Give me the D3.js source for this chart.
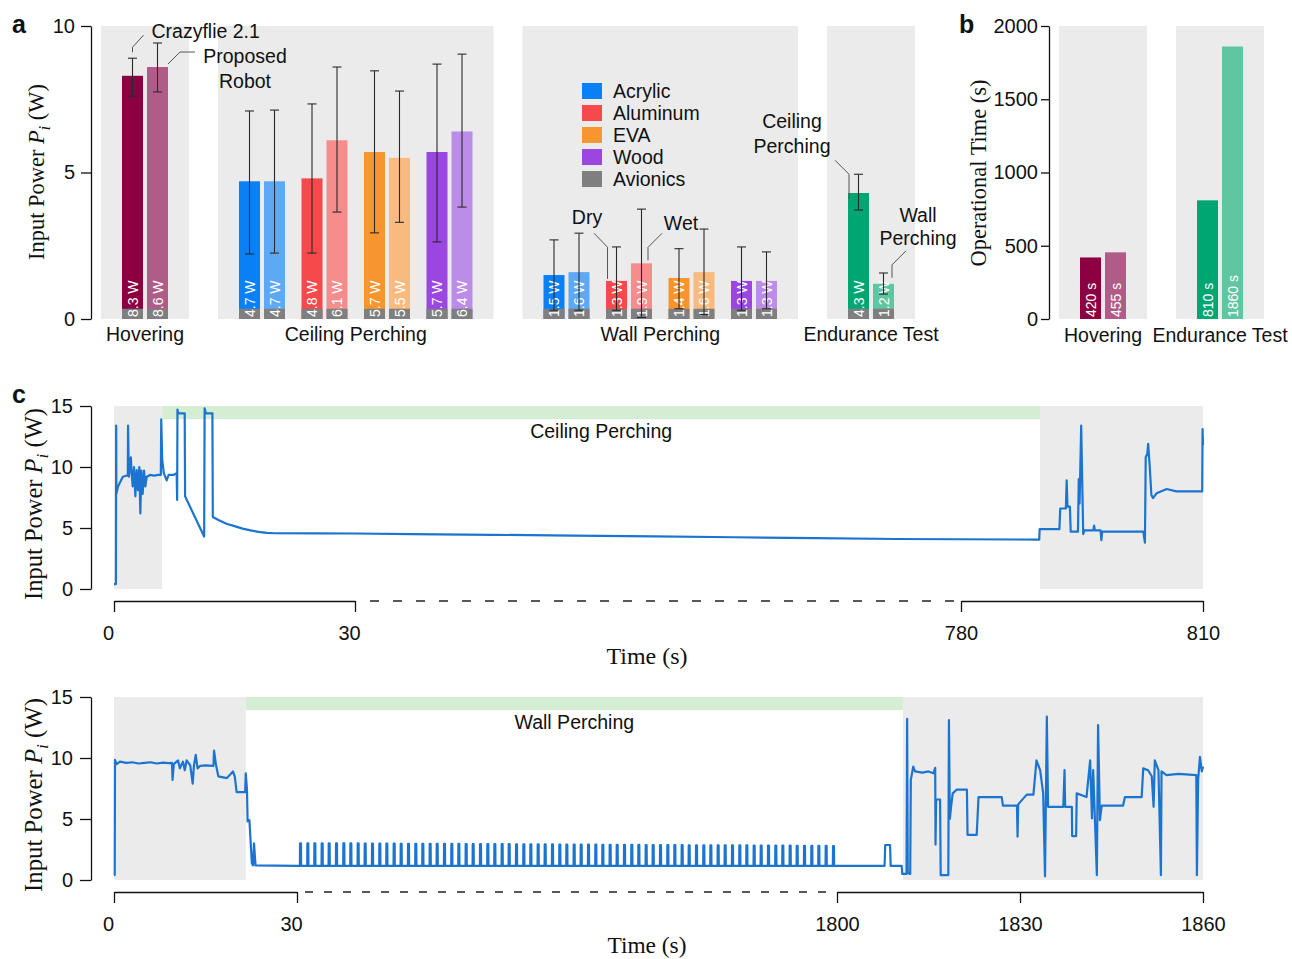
<!DOCTYPE html>
<html><head><meta charset="utf-8">
<script src="https://cdn.jsdelivr.net/npm/d3@7"></script>
<style>
body{margin:0;background:#fff;}
svg text{font-family:"Liberation Sans",Arial,Helvetica,sans-serif;}
svg text.serif{font-family:"Liberation Serif","Times New Roman",serif;}
</style></head><body>
<svg id="chart" width="1292" height="959"></svg>
<script>
// ================= DATA =================
const groupNames = ["Hovering","Ceiling Perching","Wall Perching","Endurance Test"];
const hoverRobots = ["Crazyflie 2.1","Proposed Robot"];
const hoverPower = [8.3, 8.6];
const hoverErrLow = [7.6, 7.75];
const hoverErrHigh = [8.9, 9.42];
const materials = ["Acrylic","Aluminum","EVA","Wood"];
const ceilingDry = [4.7, 4.8, 5.7, 5.7];
const ceilingWet = [4.7, 6.1, 5.5, 6.4];
const ceilingDryLow = [2.22, 2.25, 2.94, 2.63];
const ceilingDryHigh = [7.1, 7.34, 8.47, 8.7];
const ceilingWetLow = [2.25, 3.65, 3.3, 3.82];
const ceilingWetHigh = [7.13, 8.6, 7.78, 9.04];
const wallDry = [1.5, 1.3, 1.4, 1.3];
const wallWet = [1.6, 1.9, 1.6, 1.3];
const wallDryLow = [0.3, 0.3, 0.35, 0.3];
const wallDryHigh = [2.7, 2.46, 2.4, 2.46];
const wallWetLow = [0.3, 0.05, 0.15, 0.35];
const wallWetHigh = [2.93, 3.75, 3.07, 2.29];
const enduranceModes = ["Ceiling Perching","Wall Perching"];
const endurancePower = [4.3, 1.2];
const enduranceLow = [3.72, 0.85];
const enduranceHigh = [4.94, 1.57];
const avionicsPower = 0.35;
const powerTicks = [0, 5, 10];

const timeGroups = ["Hovering","Endurance Test"];
const operationalTime = [420, 455, 810, 1860];
const timeTicks = [0, 500, 1000, 1500, 2000];

const traceTicks = [0, 5, 10, 15];
const ceilingTimeTicks = [0, 30, 780, 810];
const wallTimeTicks = [0, 30, 1800, 1830, 1860];
const ceilingPhase = [6, 789.8];     // hover | ceiling perching | hover
const wallPhase = [21.6, 1810.8];    // hover | wall perching | hover

// Ceiling-perching endurance trace [time s, power W]
const ceilingTrace = [
 [0,0.4],[0.24,0.4],[0.27,13.4],[0.3,7.8],[0.5,8.4],[1.1,9.2],[1.6,9.3],[1.72,9.3],[1.75,13.4],[1.85,9.2],
 [2.1,10.8],[2.2,9.4],[2.33,8.4],[2.49,10.0],[2.66,7.6],[2.82,9.75],[2.99,8.1],[3.15,10.0],[3.28,6.2],[3.4,9.7],
 [3.57,7.8],[3.74,9.7],[3.9,8.4],[4.07,9.2],[4.49,9.35],[5.0,9.3],[5.5,9.35],[5.83,9.35],[5.88,13.9],[6.0,10.6],
 [6.2,9.5],[6.56,8.9],[6.8,9.35],[7.39,9.35],[7.8,9.5],[7.86,7.3],[7.9,14.7],[8.0,14.4],[8.8,14.4],[8.85,7.6],
 [11.22,4.3],[11.28,14.8],[11.45,14.4],[12.25,14.4],[12.3,5.9],[13,5.65],[14,5.35],[15,5.15],[16,4.95],[17,4.8],
 [18,4.68],[19,4.6],[20,4.57],[25,4.56],[30,4.55],[100,4.5],[200,4.44],[300,4.38],[400,4.31],[500,4.24],
 [600,4.17],[700,4.1],[789.7,4.05],[789.75,4.9],[792.2,4.9],[792.3,6.6],[793.0,6.6],[793.1,8.9],[793.2,6.75],[793.5,6.75],
 [793.6,4.7],[794.5,4.7],[794.6,9.0],[794.7,7.0],[794.9,13.4],[795.15,4.5],[795.3,4.8],[796.4,4.8],[796.5,5.2],[796.6,4.8],
 [797.3,4.8],[797.4,4.0],[797.5,4.7],[802.6,4.7],[802.8,3.8],[802.9,10.8],[803.1,11.1],[803.2,11.9],[803.4,10.0],[803.6,7.7],
 [803.8,7.45],[804.25,7.85],[805.5,8.2],[806.7,8.0],[809.9,8.0],[809.95,13.1],[810,11.8]
];
// Wall-perching endurance trace: start, periodic pulses, end
const wallTraceStart = [
 [0,0.4],[0.12,0.4],[0.16,9.84],[0.44,9.5],[0.98,9.7],[2,9.6],[3,9.65],[4,9.55],[5,9.6],[6,9.65],[7,9.55],[8,9.62],
 [9,9.58],[9.5,9.6],[9.6,8.2],[9.8,9.5],[10.5,9.8],[10.8,9.15],[11.3,9.7],[11.6,9.0],[11.9,9.8],[12.5,9.4],[12.9,7.9],
 [13.1,9.35],[13.4,10.25],[13.7,9.15],[14.1,9.35],[15,9.4],[16.3,9.35],[16.4,10.6],[16.7,9.5],[17.1,8.5],[18.5,8.35],
 [19.5,8.9],[19.8,8.5],[20.1,7.2],[21.5,7.2],[21.6,8.75],[21.8,7.4],[21.9,4.8],[22.2,4.9],[22.6,1.37],[22.8,1.2],
 [22.95,3.0],[23.2,1.2],[30,1.15]
];
const wallBase = 1.15;
const wallPulses = [
 [40,3.0],[64,3.0],[87,3.0],[111,3.0],[134,3.0],[158,3.0],[182,3.0],[205,3.0],[229,3.0],[252,2.98],[276,2.98],[300,2.98],
 [323,2.98],[347,2.98],[370,2.97],[394,2.97],[418,2.97],[441,2.97],[465,2.97],[488,2.96],[512,2.96],[536,2.96],[559,2.96],
 [583,2.95],[606,2.95],[630,2.95],[654,2.95],[677,2.94],[701,2.94],[724,2.94],[748,2.93],[772,2.93],[795,2.93],[819,2.92],
 [842,2.92],[866,2.92],[890,2.91],[913,2.91],[937,2.91],[960,2.9],[984,2.9],[1008,2.9],[1031,2.89],[1055,2.89],[1078,2.89],
 [1102,2.88],[1126,2.88],[1149,2.88],[1173,2.87],[1196,2.87],[1220,2.87],[1244,2.86],[1267,2.86],[1291,2.86],[1314,2.85],
 [1338,2.85],[1362,2.85],[1385,2.84],[1409,2.84],[1432,2.84],[1456,2.83],[1480,2.83],[1503,2.83],[1527,2.82],[1550,2.82],
 [1574,2.82],[1598,2.81],[1621,2.81],[1645,2.81],[1668,2.8],[1692,2.8],[1716,2.8],[1739,2.79],[1763,2.79],[1787,2.78]
];
const wallTraceEnd = [
 [1807.8,1.15],[1807.9,2.87],[1808.7,2.87],[1808.8,1.15],[1810.6,1.15],[1810.7,0.5],[1811.4,0.5],[1811.5,13.2],[1811.6,0.6],
 [1812.0,0.5],[1812.1,8.2],[1812.5,9.3],[1812.8,8.9],[1814,8.8],[1815,8.9],[1815.8,8.75],[1816.1,9.2],[1816.15,2.9],[1816.25,6.6],
 [1816.9,6.6],[1817.0,0.4],[1818.25,0.4],[1818.35,13.1],[1818.5,5.0],[1818.7,6.0],[1818.97,7.1],[1819.6,7.4],[1821.3,7.4],
 [1821.4,3.7],[1822.9,3.7],[1823.2,6.8],[1827.0,6.8],[1827.2,6.1],[1829.5,6.1],[1829.6,3.55],[1829.7,6.2],[1831.1,7.0],
 [1832.2,7.0],[1832.7,9.8],[1833.3,9.0],[1833.8,7.1],[1834.1,0.3],[1834.4,13.4],[1834.6,6.0],[1835.2,6.0],[1837.1,6.0],
 [1837.3,9.0],[1837.4,6.0],[1838.5,6.0],[1838.55,3.6],[1839.2,3.6],[1839.3,7.1],[1840.9,6.8],[1841.5,9.8],[1841.8,5.05],
 [1842.0,9.0],[1842.6,0.4],[1842.8,12.7],[1843.1,4.9],[1843.4,6.1],[1846.9,6.1],[1847.2,6.8],[1849.95,6.8],[1850.2,9.15],
 [1851.0,9.0],[1851.6,8.5],[1851.9,6.0],[1852.1,9.8],[1852.7,9.0],[1853.1,0.4],[1853.2,8.9],[1854.0,8.6],[1856,8.7],
 [1858.9,8.6],[1859.0,0.4],[1859.2,8.2],[1859.5,10.1],[1859.8,8.9],[1860,9.3]
];

// ================= STYLE =================
const hoverColors = ["#8c0042","#b15c88"];
const dryColors = ["#0a80f6","#f5494b","#f7952f","#9b46e1"];
const wetColors = ["#5ea9f5","#f68c8c","#f8ba7e","#bb8ce8"];
const enduranceColors = ["#00a672","#5fc6a1"];
const legendColors = dryColors.concat(["#7f7f7f"]);
const avionicsColor = "#7f7f7f";
const bgGray = "#ebebeb";
const bandGreen = "#d4edd3";
const traceBlue = "#1b75d0";

const svg = d3.select("#chart");
const BW = 0.84, STEP = 1, PITCH = 2.5, PAD = 0.84, GAP = 1.16;

function layout(groups){
  let cur = 0;
  groups.forEach(g=>{
    g.start = cur; const x0 = cur + PAD; let last = x0;
    g.pairs.forEach((p,pi)=>p.forEach((b,bi)=>{ b.pos = x0 + pi*PITCH + bi*STEP; last = b.pos; }));
    g.end = last + BW + PAD; cur = g.end + GAP;
  });
  return cur - GAP;
}

function styleAxis(g, fs){
  g.selectAll(".domain").attr("stroke","#111").attr("stroke-width",1.3);
  g.selectAll(".tick line").attr("stroke","#111").attr("stroke-width",1.3);
  g.selectAll(".tick text").attr("fill","#111").attr("font-size",fs)
    .style("font-family",'"Liberation Sans",Arial,sans-serif');
}

function serifLabel(cx, cy, target, rotate, parts){
  const t = svg.append("text").attr("class","serif").attr("font-size",20)
    .attr("text-anchor","middle").attr("dominant-baseline","central").attr("fill","#111")
    .attr("transform",`translate(${cx},${cy})` + (rotate ? " rotate(-90)" : ""));
  parts.forEach(p=>{
    const s = t.append("tspan").text(p.t);
    if(p.it) s.attr("font-style","italic");
    if(p.sub) s.attr("baseline-shift","sub").attr("font-size","0.7em");
  });
  const len = t.node().getComputedTextLength();
  t.attr("font-size", 20*target/len);
  return t;
}
const powerLabel = [{t:"Input Power "},{t:"P",it:true},{t:"i",it:true,sub:true},{t:" (W)"}];

function panelLetter(x,y,s){
  svg.append("text").attr("x",x).attr("y",y).text(s).attr("font-size",25).attr("font-weight","bold").attr("fill","#111");
}

function drawBars(groups, xs, ys, opts){
  const g = svg.append("g");
  g.selectAll("rect.bg").data(groups).join("rect").attr("class","bg")
    .attr("x",d=>xs(d.start)).attr("width",d=>xs(d.end)-xs(d.start))
    .attr("y",ys.range()[1]).attr("height",ys.range()[0]-ys.range()[1]).attr("fill",bgGray);
  const bars = groups.flatMap(gr=>gr.pairs.flat());
  g.selectAll("rect.bar").data(bars).join("rect").attr("class","bar")
    .attr("x",d=>xs(d.pos)).attr("width",d=>xs(d.pos+BW)-xs(d.pos))
    .attr("y",d=>ys(d.v)).attr("height",d=>ys(0)-ys(d.v)).attr("fill",d=>d.c);
  if(opts.avionics){
    g.selectAll("rect.av").data(bars).join("rect").attr("class","av")
      .attr("x",d=>xs(d.pos)).attr("width",d=>xs(d.pos+BW)-xs(d.pos))
      .attr("y",ys(avionicsPower)).attr("height",ys(0)-ys(avionicsPower)).attr("fill",avionicsColor);
  }
  g.selectAll("text.val").data(bars).join("text").attr("class","val")
    .attr("transform",d=>`translate(${(xs(d.pos)+xs(d.pos+BW))/2+5},${ys(0)-2}) rotate(-90)`)
    .attr("font-size",14).attr("fill","#fff").text(d=>d.label);
  if(opts.err){
    const eb = bars.filter(d=>d.lo!=null);
    const cx = d=>(xs(d.pos)+xs(d.pos+BW))/2;
    g.selectAll("line.ev").data(eb).join("line").attr("class","ev")
      .attr("x1",cx).attr("x2",cx).attr("y1",d=>ys(d.lo)).attr("y2",d=>ys(d.hi));
    g.selectAll("line.eh").data(eb).join("line").attr("class","eh")
      .attr("x1",d=>cx(d)-4.5).attr("x2",d=>cx(d)+4.5).attr("y1",d=>ys(d.hi)).attr("y2",d=>ys(d.hi));
    g.selectAll("line.el").data(eb).join("line").attr("class","el")
      .attr("x1",d=>cx(d)-4.5).attr("x2",d=>cx(d)+4.5).attr("y1",d=>ys(d.lo)).attr("y2",d=>ys(d.lo));
    g.selectAll("line.ev,line.eh,line.el").attr("stroke","#2a2a2a").attr("stroke-width",1.1);
  }
  g.selectAll("text.grp").data(groups).join("text").attr("class","grp")
    .attr("x",d=>(xs(d.start)+xs(d.end))/2).attr("y",opts.labelY).attr("text-anchor","middle")
    .attr("font-size",19.5).attr("fill","#111").text(d=>d.name);
  return bars;
}

// ================= PANEL A =================
const W = v => v.toFixed(1) + " W";
const mk = (v,lo,hi,c) => ({v, lo, hi, c, label: W(v)});
const groupsA = [
  {name: groupNames[0], pairs: [[mk(hoverPower[0],hoverErrLow[0],hoverErrHigh[0],hoverColors[0]),
                                 mk(hoverPower[1],hoverErrLow[1],hoverErrHigh[1],hoverColors[1])]]},
  {name: groupNames[1], pairs: materials.map((m,i)=>[mk(ceilingDry[i],ceilingDryLow[i],ceilingDryHigh[i],dryColors[i]),
                                                   mk(ceilingWet[i],ceilingWetLow[i],ceilingWetHigh[i],wetColors[i])])},
  {name: groupNames[2], pairs: materials.map((m,i)=>[mk(wallDry[i],wallDryLow[i],wallDryHigh[i],dryColors[i]),
                                                   mk(wallWet[i],wallWetLow[i],wallWetHigh[i],wetColors[i])])},
  {name: groupNames[3], pairs: [[mk(endurancePower[0],enduranceLow[0],enduranceHigh[0],enduranceColors[0]),
                                 mk(endurancePower[1],enduranceLow[1],enduranceHigh[1],enduranceColors[1])]]}
];
const totalA = layout(groupsA);
const xa = d3.scaleLinear().domain([0,totalA]).range([101,915]);
const ya = d3.scaleLinear().domain([0,10]).range([319,26]);
drawBars(groupsA, xa, ya, {avionics:true, err:true, labelY:341});
const axA = svg.append("g").attr("transform","translate(91,0)")
  .call(d3.axisLeft(ya).tickValues(powerTicks).tickSize(10).tickSizeOuter(0).tickPadding(6));
styleAxis(axA, 20);
serifLabel(36, 172, 176, true, powerLabel);
panelLetter(12, 33, "a");

// legend
const legNames = materials.concat(["Avionics"]);
const leg = svg.append("g").attr("transform","translate(582,83)");
leg.selectAll("rect").data(legNames).join("rect").attr("x",0).attr("y",(d,i)=>i*22)
  .attr("width",20).attr("height",16).attr("fill",(d,i)=>legendColors[i]);
leg.selectAll("text").data(legNames).join("text").attr("x",31).attr("y",(d,i)=>i*22+8)
  .attr("dominant-baseline","central").attr("font-size",19.5).attr("fill","#111").text(d=>d);

// annotations
function leader(pts){
  svg.append("path").attr("d",d3.line()(pts)).attr("fill","none").attr("stroke","#555").attr("stroke-width",1);
}
function note(x,y,s,anchor){
  svg.append("text").attr("x",x).attr("y",y).attr("text-anchor",anchor||"middle")
    .attr("font-size",19.5).attr("fill","#111").text(s);
}
const bA = groupsA.map(g=>g.pairs);
const cxA = b => (xa(b.pos)+xa(b.pos+BW))/2;
{ const b0 = bA[0][0][0], b1 = bA[0][0][1];
  leader([[cxA(b0), ya(b0.hi)-6],[cxA(b0), ya(b0.hi)-11],[cxA(b0)+11, ya(b0.hi)-23]]);
  note(cxA(b0)+19, 38, hoverRobots[0], "start");
  leader([[xa(b1.pos+BW), ya(b1.v)-3],[xa(b1.pos+BW)+12, ya(b1.v)-15],[xa(b1.pos+BW)+27, ya(b1.v)-15]]);
  note(245, 63, "Proposed"); note(245, 88, "Robot");
}
{ const d = bA[2][1][0], w = bA[2][1][1];
  leader([[xa(d.pos)+1.5, ya(d.v)-2],[xa(d.pos)+1.5, ya(2.45)],[xa(d.pos)-12, ya(2.45)-14]]);
  note(587, 224, "Dry");
  leader([[xa(w.pos+BW)-4, ya(w.v)-3],[xa(w.pos+BW)-4, ya(w.v)-16],[xa(w.pos+BW)+10, ya(w.v)-30]]);
  note(681, 230, "Wet");
}
{ const e0 = bA[3][0][0], e1 = bA[3][0][1];
  leader([[xa(e0.pos)+1, ya(e0.v)+6],[xa(e0.pos)+1, ya(e0.hi)],[xa(e0.pos)-13, ya(e0.hi)-14]]);
  note(792, 128, "Ceiling"); note(792, 153, "Perching");
  leader([[xa(e1.pos+BW)-2, ya(e1.v)-6],[xa(e1.pos+BW)-2, ya(e1.v)-19],[xa(e1.pos+BW)+12, ya(e1.v)-33]]);
  note(918, 222, "Wall"); note(918, 245, "Perching");
}

// ================= PANEL B =================
const S = v => v + " s";
const groupsB = [
  {name: timeGroups[0], pairs: [[{v:operationalTime[0],c:hoverColors[0],label:S(operationalTime[0])},
                                 {v:operationalTime[1],c:hoverColors[1],label:S(operationalTime[1])}]]},
  {name: timeGroups[1], pairs: [[{v:operationalTime[2],c:enduranceColors[0],label:S(operationalTime[2])},
                                 {v:operationalTime[3],c:enduranceColors[1],label:S(operationalTime[3])}]]}
];
const totalB = layout(groupsB);
const xb = d3.scaleLinear().domain([0,totalB]).range([1059,1264]);
const yb = d3.scaleLinear().domain([0,2000]).range([319,26]);
drawBars(groupsB, xb, yb, {avionics:false, err:false, labelY:342});
const axB = svg.append("g").attr("transform","translate(1049,0)")
  .call(d3.axisLeft(yb).tickValues(timeTicks).tickSize(8).tickSizeOuter(0).tickPadding(3).tickFormat(d3.format("d")));
styleAxis(axB, 20);
serifLabel(978, 173, 187, true, [{t:"Operational Time (s)"}]);
panelLetter(959, 33, "b");

// ================= PANEL C =================
function tracePanel(o){
  const {xs, ys, phase, ticks, segs, trace, axisY, bandText, dash} = o;
  const [t0, t1] = [xs.domain()[0], xs.domain()[xs.domain().length-1]];
  const top = ys(15), bot = ys(0);
  const g = svg.append("g");
  g.append("rect").attr("x",xs(t0)).attr("width",xs(phase[0])-xs(t0)).attr("y",top).attr("height",bot-top).attr("fill",bgGray);
  g.append("rect").attr("x",xs(phase[1])).attr("width",xs(t1)-xs(phase[1])).attr("y",top).attr("height",bot-top).attr("fill",bgGray);
  g.append("rect").attr("x",xs(phase[0])).attr("width",xs(phase[1])-xs(phase[0])).attr("y",top).attr("height",ys(13.92)-top).attr("fill",bandGreen);
  g.append("text").attr("x",(xs(phase[0])+xs(phase[1]))/2).attr("y",ys(13.92)+12).attr("dominant-baseline","central")
    .attr("text-anchor","middle").attr("font-size",19.5).attr("fill","#111").text(bandText);
  g.append("path").datum(trace).attr("d",d3.line().x(d=>xs(d[0])).y(d=>ys(d[1])))
    .attr("fill","none").attr("stroke",traceBlue).attr("stroke-width",2.2).attr("stroke-linejoin","round");
  const ay = svg.append("g").attr("transform","translate(91,0)")
    .call(d3.axisLeft(ys).tickValues(traceTicks).tickSize(11).tickSizeOuter(0).tickPadding(7));
  styleAxis(ay, 20);
  segs.forEach((sg,i)=>{
    const sub = d3.scaleLinear().domain(sg).range([xs(sg[0]),xs(sg[1])]);
    const ax = svg.append("g").attr("transform",`translate(0,${axisY})`)
      .call(d3.axisBottom(sub).tickValues(ticks.filter(v=>v>=sg[0]&&v<=sg[1])).tickSize(11).tickSizeOuter(0).tickPadding(14).tickFormat(d3.format("d")));
    styleAxis(ax, 20);
    if(i===0) ax.selectAll(".tick text").attr("dx",-6);
  });
  svg.append("line").attr("x1",xs(segs[0][1])+dash[0]).attr("x2",xs(segs[1][0])-dash[1])
    .attr("y1",axisY).attr("y2",axisY).attr("stroke","#222").attr("stroke-width",1.3).attr("stroke-dasharray",dash[2]);
}

const xc1 = d3.scaleLinear().domain([0,30,780,810]).range([114,355,961,1203]);
const yc1 = d3.scaleLinear().domain([0,15]).range([589,406]);
tracePanel({xs:xc1, ys:yc1, phase:ceilingPhase, ticks:ceilingTimeTicks, segs:[[0,30],[780,810]],
  trace:ceilingTrace, axisY:601, bandText:"Ceiling Perching", dash:[15,6,"9,14"]});
serifLabel(33, 504, 192, true, powerLabel);
serifLabel(647, 656, 81, false, [{t:"Time (s)"}]);
panelLetter(12, 403, "c");

const wallTrace = wallTraceStart
  .concat(wallPulses.flatMap(([t,p])=>[[t-0.5,wallBase],[t,p],[t+3,p],[t+3.5,wallBase]]))
  .concat(wallTraceEnd);
const xc2 = d3.scaleLinear().domain([0,30,1800,1860]).range([114,297,837,1203]);
const yc2 = d3.scaleLinear().domain([0,15]).range([880,697]);
tracePanel({xs:xc2, ys:yc2, phase:wallPhase, ticks:wallTimeTicks, segs:[[0,30],[1800,1860]],
  trace:wallTrace, axisY:892, bandText:"Wall Perching", dash:[8,5,"8,11"]});
serifLabel(33, 795, 194, true, powerLabel);
serifLabel(647, 945, 79, false, [{t:"Time (s)"}]);
</script>
</body></html>
